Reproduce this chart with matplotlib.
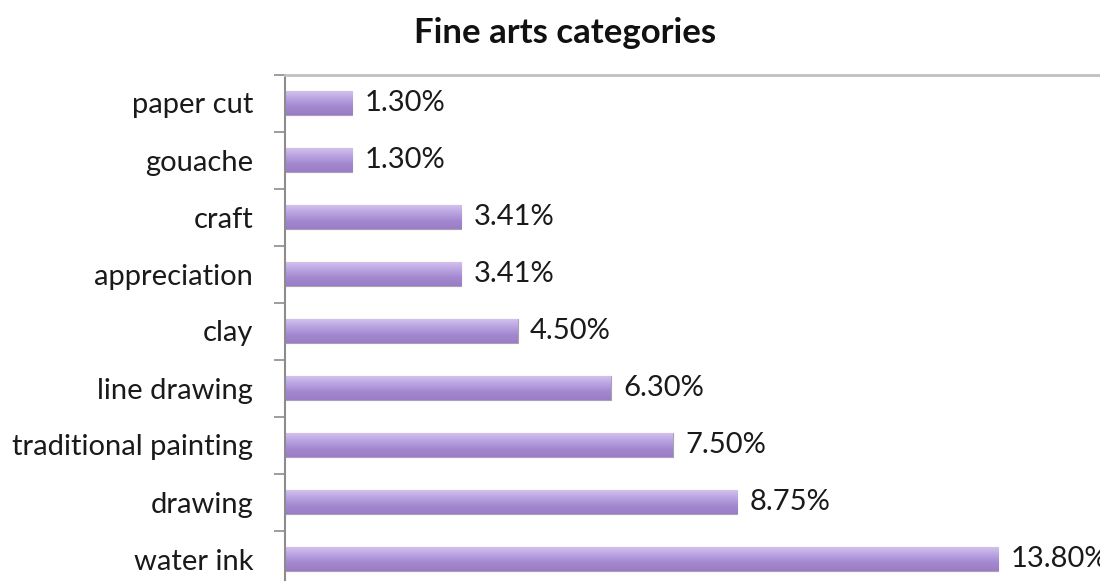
import numpy as np
import matplotlib
matplotlib.use("Agg")
import matplotlib.pyplot as plt
from matplotlib.colors import LinearSegmentedColormap

categories = ["paper cut", "gouache", "craft", "appreciation", "clay",
              "line drawing", "traditional painting", "drawing", "water ink"]
values = [1.30, 1.30, 3.41, 3.41, 4.50, 6.30, 7.50, 8.75, 13.80]
value_labels = ["1.30%", "1.30%", "3.41%", "3.41%", "4.50%",
                "6.30%", "7.50%", "8.75%", "13.80%"]
title = "Fine arts categories"

plt.rcParams["font.family"] = ["Lato", "DejaVu Sans"]

W, H = 1100, 581
fig = plt.figure(figsize=(W / 100, H / 100), dpi=100)

# plot area: left spine at x=285px, top border at y=74.5px, 57px per category
left = 285 / W
top = 1 - 74.5 / H
row = 57 / H
height = row * len(categories)
ax = fig.add_axes([left, top - height, 1.0 - left, height])

xmax = 815 / 51.68
y = np.arange(len(categories))
bar_h = 0.41
bars = ax.barh(y, values, height=bar_h, color="#b39ddb",
               edgecolor="#a8a0b4", linewidth=0.8, zorder=2)

# vertical gradient fill for each bar
cmap = LinearSegmentedColormap.from_list(
    "purple", ["#d2c0ee", "#b9a2e0", "#a287cf", "#9a7dc6"])
grad = np.linspace(0, 1, 64).reshape(-1, 1)
for b in bars:
    x0, y0 = b.get_x(), b.get_y()
    w, h = b.get_width(), b.get_height()
    im = ax.imshow(grad, cmap=cmap, aspect="auto",
                   extent=(x0, x0 + w, y0 + h, y0), zorder=2.5,
                   interpolation="bilinear")
    im.set_clip_path(b)

ax.set_xlim(0, xmax)
ax.set_ylim(len(categories) - 0.5, -0.5)

for yi, v, lab in zip(y, values, value_labels):
    ax.annotate(lab, (v, yi), xytext=(9, 0), textcoords="offset points",
                ha="left", va="center", fontsize=21, color="#1a1a1a",
                zorder=4)

ax.set_yticks(y)
ax.set_yticklabels(categories, fontsize=21, color="#1a1a1a")
ax.set_yticks(np.arange(-0.5, len(categories), 1), minor=True)
ax.tick_params(axis="y", which="major", length=0, pad=23)
ax.tick_params(axis="y", which="minor", length=8, width=1.2,
               color="#8c8c8c", direction="out")
ax.set_xticks([])

for side in ("right", "bottom"):
    ax.spines[side].set_visible(False)
ax.spines["left"].set_color("#8c8c8c")
ax.spines["left"].set_linewidth(1.5)
ax.spines["top"].set_color("#c0c0c0")
ax.spines["top"].set_linewidth(2)

fig.text(565 / W, 1 - 33 / H, title, ha="center", va="center",
         fontsize=25, fontweight="bold", color="#111111")

fig.savefig("out.png", dpi=100)
